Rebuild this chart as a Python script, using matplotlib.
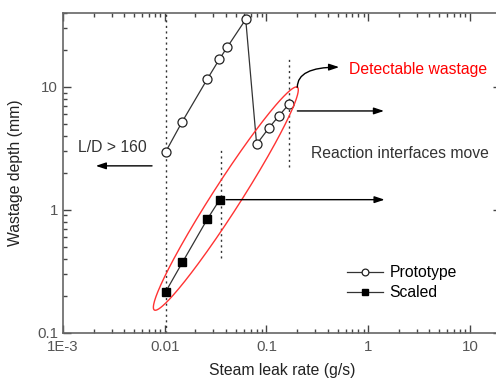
import numpy as np
import matplotlib
matplotlib.use("Agg")
import matplotlib.pyplot as plt
from matplotlib.ticker import FixedLocator, FixedFormatter, LogLocator, NullFormatter

plt.rcParams['font.family'] = ['Liberation Sans', 'DejaVu Sans']

# data
proto_x = [0.0102, 0.0147, 0.0262, 0.0344, 0.041, 0.0625, 0.080, 0.105, 0.133, 0.166]
proto_y = [2.96, 5.14, 11.6, 16.8, 21.0, 35.5, 3.42, 4.61, 5.85, 7.23]
scaled_x = [0.0102, 0.0149, 0.0262, 0.0347]
scaled_y = [0.215, 0.373, 0.84, 1.21]

xticks = [1e-3, 1e-2, 1e-1, 1, 10]
xtick_labels = ['1E-3', '0.01', '0.1', '1', '10']
yticks = [0.1, 1, 10]
ytick_labels = ['0.1', '1', '10']

# dotted guide lines: x, y_bottom, y_top
guides = [(0.0102, 0.1, 40), (0.036, 0.405, 3.06), (0.167, 2.24, 16.8)]
# ellipse tips (data coords)
ell_p1 = (0.0079, 0.153)
ell_p2 = (0.201, 9.96)

W, H = 496, 383
fig = plt.figure(figsize=(W / 100, H / 100), dpi=100)
ax = fig.add_axes([63 / W, (H - 332.7) / H, (500.6 - 63) / W, (332.7 - 13) / H])
ax.set_xscale('log')
ax.set_yscale('log')
ax.set_xlim(1e-3, 20)
ax.set_ylim(0.1, 40)

gray = '#555555'
for s in ax.spines.values():
    s.set_color('#666666')
    s.set_linewidth(1.2)

ax.xaxis.set_major_locator(FixedLocator(xticks))
ax.xaxis.set_major_formatter(FixedFormatter(xtick_labels))
ax.yaxis.set_major_locator(FixedLocator(yticks))
ax.yaxis.set_major_formatter(FixedFormatter(ytick_labels))
ax.xaxis.set_minor_locator(LogLocator(base=10, subs=np.arange(2, 10)))
ax.yaxis.set_minor_locator(LogLocator(base=10, subs=np.arange(2, 10)))
ax.xaxis.set_minor_formatter(NullFormatter())
ax.yaxis.set_minor_formatter(NullFormatter())
ax.tick_params(which='both', direction='in', top=True, right=True,
               color='#444444', labelcolor=gray, labelsize=10.8)
ax.tick_params(which='major', length=6, width=1)
ax.tick_params(which='minor', length=3, width=1)
ax.tick_params(axis='x', pad=5)

ax.set_xlabel('Steam leak rate (g/s)', fontsize=11.3, color='#222222', labelpad=7)
ax.set_ylabel('Wastage depth (mm)', fontsize=11.3, color='#222222', labelpad=10)

for gx, y0, y1 in guides:
    ax.plot([gx, gx], [y0, y1], ls=(0, (1.5, 2.5)), color='#333333', lw=1)

ax.plot(proto_x, proto_y, '-o', color='#333333', lw=0.9, ms=6.5,
        mfc='white', mec='#222222', mew=0.9, label='Prototype')
ax.plot(scaled_x, scaled_y, '-s', color='#333333', lw=0.9, ms=5.5,
        mfc='black', mec='black', label='Scaled')

# ellipse built in display space, mapped back to data
d1 = ax.transData.transform(ell_p1)
d2 = ax.transData.transform(ell_p2)
c = (d1 + d2) / 2
a = np.hypot(*(d2 - d1)) / 2
b = 14 * fig.dpi / 100
ang = np.arctan2(*(d2 - d1)[::-1])
t = np.linspace(0, 2 * np.pi, 300)
ex = c[0] + a * np.cos(t) * np.cos(ang) - b * np.sin(t) * np.sin(ang)
ey = c[1] + a * np.cos(t) * np.sin(ang) + b * np.sin(t) * np.cos(ang)
edata = ax.transData.inverted().transform(np.column_stack([ex, ey]))
ax.plot(edata[:, 0], edata[:, 1], color='#ff3333', lw=1)

arr = dict(arrowstyle='-|>,head_length=0.6,head_width=0.2', color='black', lw=1,
           shrinkA=0, shrinkB=0)
ax.annotate('', xy=(0.0021, 2.28), xytext=(0.0075, 2.28), arrowprops=arr)
ax.annotate('', xy=(1.43, 6.38), xytext=(0.201, 6.38), arrowprops=arr)
ax.annotate('', xy=(1.45, 1.21), xytext=(0.040, 1.21), arrowprops=arr)
ax.annotate('', xy=(0.518, 14.5), xytext=(0.201, 9.96),
            arrowprops=dict(arr, connectionstyle='angle3,angleA=90,angleB=0'))

ax.text(0.0014, 3.19, 'L/D > 160', fontsize=11.3, color='#333333', va='center')
ax.text(0.275, 2.89, 'Reaction interfaces move', fontsize=11.3, color='#333333', va='center')
ax.text(0.648, 13.8, 'Detectable wastage', fontsize=11.3, color='red', va='center')

ax.legend(loc='upper left', bbox_to_anchor=(0.635, 0.23), frameon=False,
          fontsize=11.3, handlelength=2.3, markerscale=0.75, handletextpad=0.4,
          labelspacing=0.3, borderaxespad=0)

fig.savefig('out.png', dpi=100)
